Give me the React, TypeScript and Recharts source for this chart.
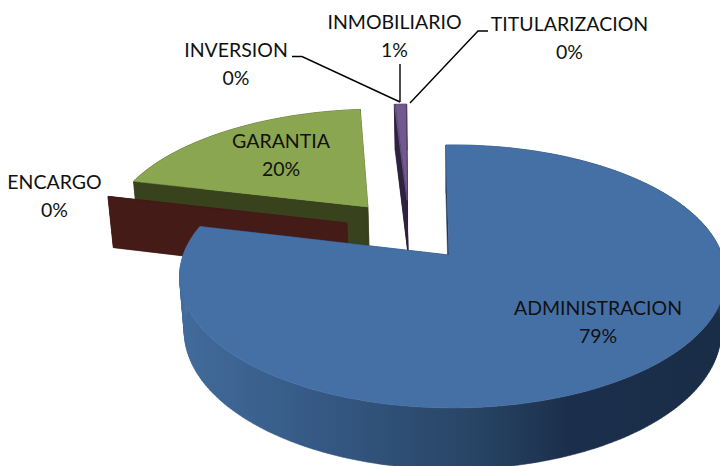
import React from "react";
import { PieChart, Pie } from "recharts";

// Data, drawn clockwise from the top: ADMINISTRACION, ENCARGO, GARANTIA, INVERSION, INMOBILIARIO, TITULARIZACION.
// The arrays run in painter's order (back to front), so the Pie goes counter-clockwise.
const categories = ["TITULARIZACION", "INMOBILIARIO", "INVERSION", "GARANTIA", "ENCARGO", "ADMINISTRACION"];
const shares = [0.05, 0.8, 0.05, 19.85, 0.05, 79.2];
const tableData = categories.map((name, i) => ({ name, value: shares[i] }));

// 3D look: explosion of each slice on the disc plane (the third number nudges the wedge tip), and the colours.
const explode: Record<string, [number, number, number]> = {
  TITULARIZACION: [-0.182, 0.46, 0],
  INMOBILIARIO: [-0.182, 0.46, 0],
  INVERSION: [-0.182, 0.46, 0],
  GARANTIA: [-0.335, 0.4, 0],
  ENCARGO: [-0.409, 0.26, 0],
  ADMINISTRACION: [0, 0, -0.014],
};
const faces: Record<string, string> = {
  TITULARIZACION: "#71588f",
  INMOBILIARIO: "#71588f",
  INVERSION: "#71588f",
  GARANTIA: "#8ba650",
  ENCARGO: "#451b18",
  ADMINISTRACION: "#4570a6",
};
const walls: Record<string, string> = {
  TITULARIZACION: "#2d2340",
  INMOBILIARIO: "#2d2340",
  INVERSION: "#2d2340",
  GARANTIA: "#38421c",
  ENCARGO: "#451b18",
  ADMINISTRACION: "#1b3150",
};
// Label centre and first baseline, plus the leader line points.
const labelSpots: Record<string, { x: number; y: number; line?: [number, number][] }> = {
  ADMINISTRACION: { x: 598, y: 315 },
  GARANTIA: { x: 281, y: 148 },
  ENCARGO: { x: 54.5, y: 189 },
  INVERSION: { x: 236, y: 57, line: [[292, 56.5], [302, 56.5], [400, 102]] },
  INMOBILIARIO: { x: 394.5, y: 29, line: [[400, 64], [400, 102]] },
  TITULARIZACION: { x: 569.5, y: 31, line: [[488, 31], [478, 31], [410, 103]] },
};

const X0 = 452.7;
const Y0 = 255;
const K = 0.163;
const M = 0.017;
const A = 128;
const B = 269.5;
const C = 55;

function project(u: number, v: number, h: number): [number, number] {
  const w = 1 + K * v + M * h;
  return [X0 + (B * u) / w, Y0 + (-A * v + C * h) / w];
}
const toPath = (pts: [number, number][]) =>
  "M" + pts.map((p) => `${p[0].toFixed(2)},${p[1].toFixed(2)}`).join("L") + "Z";

function Slice3D(props: any) {
  const name: string = props.name ?? props.payload?.name;
  const a = 90 - Math.max(props.startAngle, props.endAngle);
  const b = 90 - Math.min(props.startAngle, props.endAngle);
  const [ox, oy, tip] = explode[name];
  const steps = Math.max(1, Math.ceil(b - a));
  const rim = (h: number) => {
    const pts: [number, number][] = [];
    for (let i = 0; i <= steps; i++) {
      const t = ((a + ((b - a) * i) / steps) * Math.PI) / 180;
      pts.push(project(ox + Math.sin(t), oy + Math.cos(t), h));
    }
    return pts;
  };
  const top = rim(0);
  const bottom = rim(1);
  const apex0 = project(ox + tip, oy, 0);
  const apex1 = project(ox + tip, oy, 1);
  const isMain = name === "ADMINISTRACION";
  const wall = walls[name];
  const outer = isMain ? "url(#mainWall)" : wall;
  // One quad per step, so the fold of the rim at the silhouette leaves no hole.
  const strip = top.slice(1).map((p, i) => toPath([top[i], p, bottom[i + 1], bottom[i]]));
  return (
    <g>
      {isMain && (
        <defs>
          <linearGradient id="mainWall" gradientUnits="userSpaceOnUse" x1="180" y1="0" x2="720" y2="0">
            <stop offset="0" stopColor="#426b9b" />
            <stop offset="0.3" stopColor="#335680" />
            <stop offset="0.55" stopColor="#274464" />
            <stop offset="0.72" stopColor="#1b2f4c" />
            <stop offset="1" stopColor="#1a2d47" />
          </linearGradient>
        </defs>
      )}
      <path d={toPath([apex0, top[0], bottom[0], apex1])} fill={wall} stroke={wall} strokeWidth={0.5} />
      <path
        d={toPath([apex0, top[top.length - 1], bottom[bottom.length - 1], apex1])}
        fill={wall}
        stroke={wall}
        strokeWidth={0.5}
      />
      <path d={strip.join("")} fill={outer} stroke={outer} strokeWidth={0.5} fillRule="nonzero" />
      <path d={toPath([apex0, ...top])} fill={faces[name]} stroke={faces[name]} strokeWidth={0.5} />
    </g>
  );
}

function SliceLabel(props: any) {
  const name: string = props.name ?? props.payload?.name;
  const spot = labelSpots[name];
  const pct = `${Math.round(props.percent * 100)}%`;
  return (
    <g>
      {spot.line && (
        <polyline
          points={spot.line.map((p) => p.join(",")).join(" ")}
          fill="none"
          stroke="#000"
          strokeWidth={1.4}
        />
      )}
      <text x={spot.x} y={spot.y} textAnchor="middle" fontFamily="Lato" fontSize={19.5} fill="#111">
        {name}
      </text>
      <text x={spot.x} y={spot.y + 28} textAnchor="middle" fontFamily="Lato" fontSize={19.5} fill="#111">
        {pct}
      </text>
    </g>
  );
}

export default function App() {
  return (
    <div style={{ position: "fixed", left: 0, top: 0, width: 720, height: 466, overflow: "hidden", background: "#fff" }}>
      <PieChart width={720} height={466} margin={{ top: 0, right: 0, bottom: 0, left: 0 }}>
        <Pie
          data={tableData}
          dataKey="value"
          nameKey="name"
          cx={X0}
          cy={Y0}
          outerRadius={B}
          startAngle={91.7}
          endAngle={451.7}
          stroke="none"
          isAnimationActive={false}
          shape={Slice3D}
          activeShape={Slice3D}
          label={SliceLabel}
          labelLine={false}
        />
      </PieChart>
    </div>
  );
}
